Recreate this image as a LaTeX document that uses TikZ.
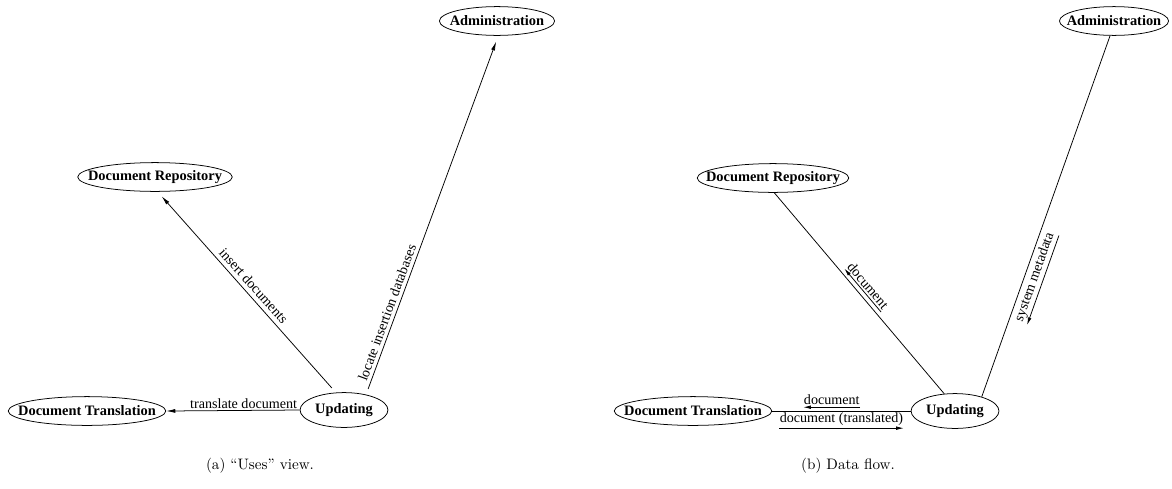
\documentclass[tikz,border=0pt]{standalone}
\usepackage{fontspec}
\newfontfamily\timesfont{Liberation Serif}
\usepackage{tikz}
\usetikzlibrary{shapes.geometric}
\usetikzlibrary{arrows.meta}

\newcommand{\ucfont}{\timesfont\bfseries\fontsize{9.5}{11}\selectfont}
\newcommand{\lblfont}{\timesfont\fontsize{9.3}{11}\selectfont}
\newcommand{\uc}[1]{\makebox[0pt]{#1}}

\tikzset{
    usecase/.style={ellipse, draw, inner sep=0pt, minimum height=19pt, font=\ucfont},
    uses/.style={-{Latex[length=6pt,width=2.6pt]}, shorten <=4pt, shorten >=4pt},
    flow/.style={-{Latex[length=5pt,width=2.4pt]}, shorten <=1pt, shorten >=1pt},
    lbl/.style={font=\lblfont, inner sep=1.2pt},
    caption/.style={font=\fontsize{10}{12}\selectfont}
}

\begin{document}
\begin{tikzpicture}[x=0.66pt, y=-0.66pt, line width=0.5pt]
    \useasboundingbox (0,0) rectangle (1172,488);

    % (a) uses view
    \node[usecase, minimum width=76pt] (adminA) at (497,21) {\uc{Administration}};
    \node[usecase, minimum width=102pt] (repoA) at (155,177) {\uc{Document Repository}};
    \node[usecase, minimum width=104pt] (transA) at (87,411) {\uc{Document Translation}};
    \node[usecase, minimum width=58pt, minimum height=23pt] (updA) at (344,410) {\uc{Updating}};

    \draw[uses] (updA.115) -- node[lbl, sloped, above=1.5pt, pos=0.5] {insert documents} (repoA.-80);
    \draw[uses] (updA.35) -- node[lbl, sloped, above=1pt, pos=0.22] {locate insertion databases} (adminA.-85);
    \draw[uses, shorten <=0pt, shorten >=0pt] (updA.west) -- node[lbl, above, pos=0.42] {translate document} (transA.east);

    \node[caption] (capA) at (260,466) {(a) ``Uses'' view.};

    % (b) data flow
    \node[usecase, minimum width=72pt] (adminB) at (1114,21) {\uc{Administration}};
    \node[usecase, minimum width=100pt] (repoB) at (773,178) {\uc{Document Repository}};
    \node[usecase, minimum width=104pt] (transB) at (693,411) {\uc{Document Translation}};
    \node[usecase, minimum width=58pt, minimum height=23pt] (updB) at (955,411) {\uc{Updating}};

    \draw (repoB.-85) -- node[lbl, sloped, above=3pt, pos=0.5] (docUp) {document} (updB.122);
    \draw (adminB.-105) -- node[lbl, sloped, below=1pt, pos=0.66] (meta) {system metadata} (updB.28);
    \draw (transB.east) -- node[lbl, above=2.5pt, pos=0.43] (docIn) {document}
        node[lbl, below, pos=0.5] (docOut) {document (translated)} (updB.west);

    \draw[flow] (docUp.south east) -- (docUp.south west);
    \draw[flow] (meta.south east) -- (meta.south west);
    \draw[flow] (docIn.south east) -- (docIn.south west);
    \draw[flow] (docOut.south west) -- (docOut.south east);

    \node[caption] (capB) at (848,466) {(b) Data flow.};
\end{tikzpicture}
\end{document}
